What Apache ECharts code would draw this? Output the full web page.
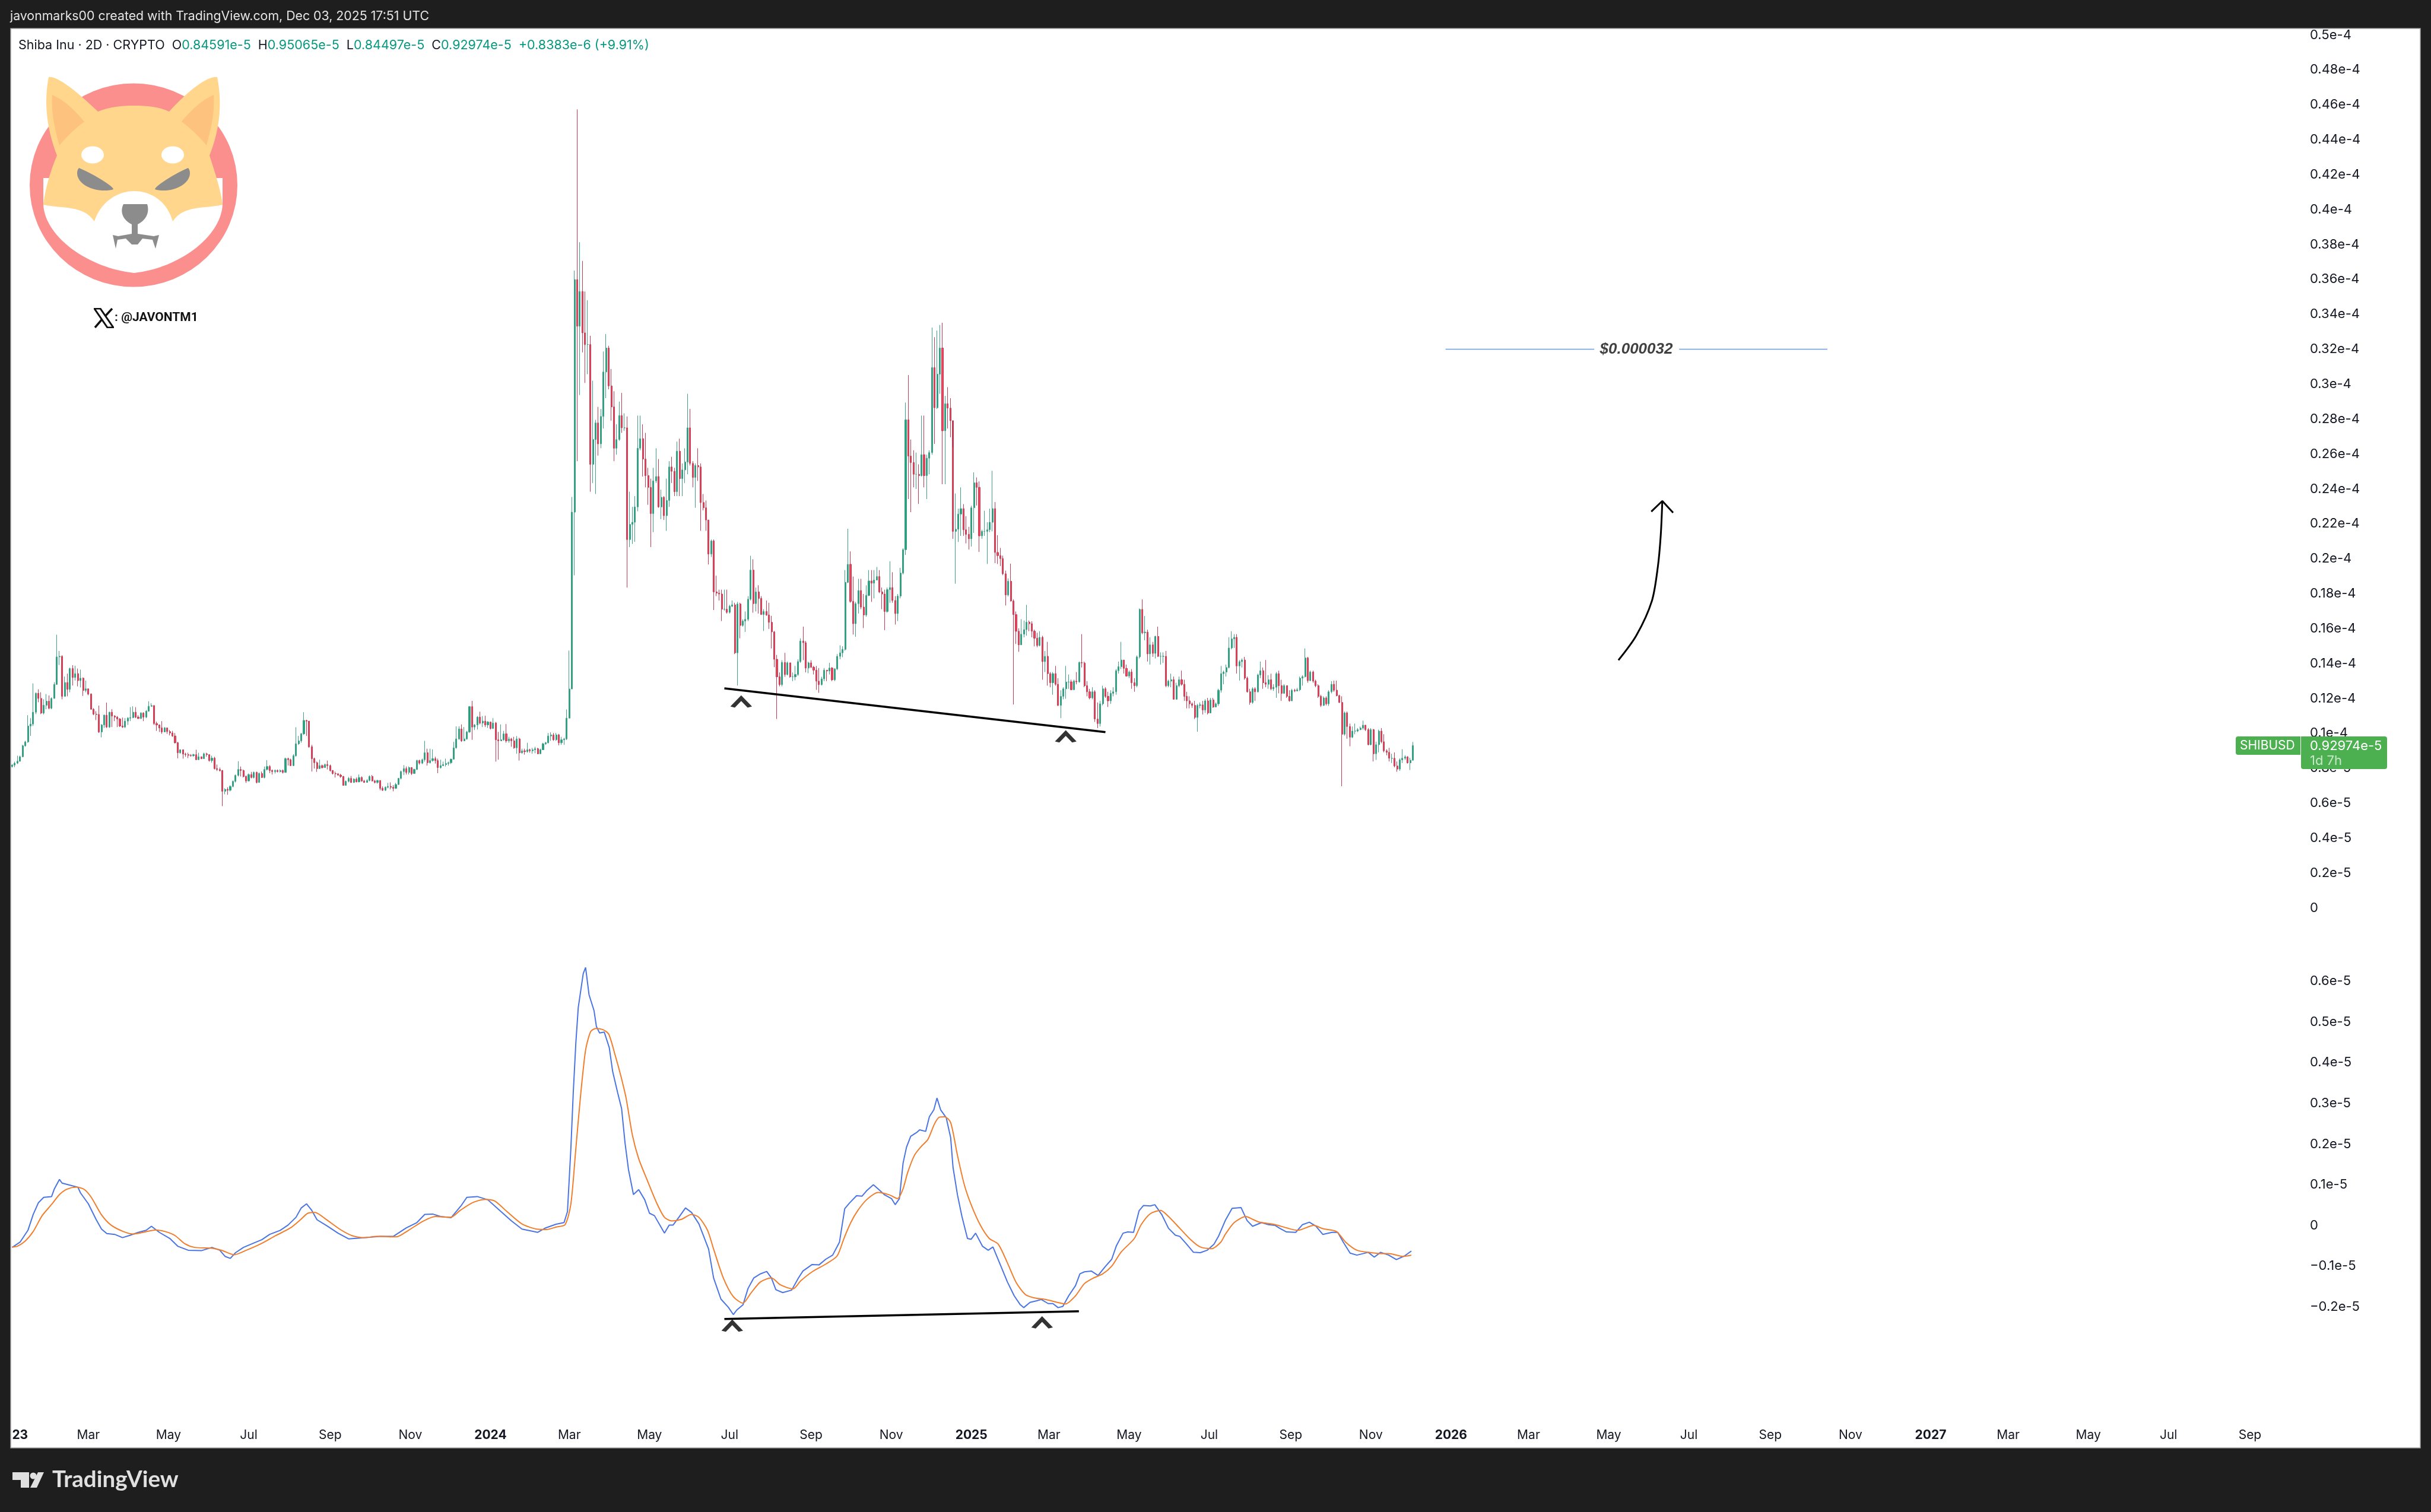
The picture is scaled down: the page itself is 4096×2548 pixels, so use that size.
<!DOCTYPE html>
<html>
<head>
<meta charset="utf-8">
<script src="https://cdn.jsdelivr.net/npm/echarts@6/dist/echarts.min.js"></script>
<style>html,body{margin:0;padding:0;background:#fff}#c{width:4096px;height:2548px}</style>
</head>
<body>
<div id="c"></div>
<script>
// SHIBUSD 2D bars, prices in units of 1e-6 USD. Each bar opens at the previous close.
const firstOpen = 8.10;
const shibClose = [
8.18,8.29,8.40,8.66,9.29,9.51,10.42,10.53,11.21,12.29,12.0,11.16,11.61,11.84,11.44,12.0,12.8,14.38,14.41,12.12,
12.91,12.52,13.71,13.2,13.42,13.02,13.16,12.46,12.55,12.25,11.38,11.1,11.08,10.08,10.48,11.04,10.36,11.21,10.99,10.93,
10.82,10.42,10.36,10.7,10.87,10.9,11.21,10.93,10.85,11.16,10.93,11.27,11.55,11.59,10.56,10.48,10.31,10.08,10.31,10.1,
10.02,9.85,9.46,8.89,9.06,8.81,8.78,8.74,8.72,8.78,8.49,8.66,8.55,8.83,8.78,8.44,8.58,7.98,7.93,7.87,
6.68,6.79,6.74,6.96,7.25,7.59,7.93,7.87,7.53,7.27,7.64,7.47,7.76,7.19,7.7,7.47,7.93,8.1,7.87,7.81,
7.87,7.81,7.87,7.76,8.55,8.49,8.15,8.72,9.4,9.57,9.97,10.74,10.7,9.23,8.55,8.32,7.98,8.15,8.04,8.21,
8.15,7.87,7.7,7.68,7.61,7.53,7.02,7.25,7.42,7.19,7.38,7.22,7.47,7.27,7.19,7.3,7.53,7.27,7.19,7.3,
6.85,6.74,6.91,6.96,6.91,6.85,7.07,7.42,7.81,7.98,7.76,8.04,7.7,7.93,8.44,8.29,8.49,8.89,8.32,8.44,
8.55,8.44,8.04,8.15,8.21,8.27,8.32,8.52,9.17,9.68,10.25,9.57,9.68,10.08,11.53,10.36,10.48,10.93,10.59,10.7,
10.48,10.65,10.28,10.59,9.63,9.57,9.63,9.97,9.57,9.68,9.57,9.17,9.68,8.89,9.0,8.95,9.06,9.0,9.06,9.12,
8.83,9.06,9.4,9.46,9.85,9.91,9.63,9.91,9.46,9.63,9.68,
10.87,12.54,22.67,35.99,33.32,35.31,32.94,32.27,32.27,25.41,26.83,27.78,26.58,28.15,30.7,32.07,29.9,28.7,26.33,
26.83,28.2,27.5,27.5,21.1,21.97,22.09,22.97,26.33,26.88,25.71,24.76,24.09,22.59,24.46,24.71,22.97,23.52,22.47,23.34,
25.26,25.01,23.84,26.16,24.59,25.09,25.54,27.5,25.46,24.66,25.34,25.26,23.22,22.92,22.22,20.27,21.02,18.1,18.03,17.98,
17.11,17.11,16.93,17.28,17.36,14.61,17.41,16.18,16.43,16.53,17.68,19.35,17.43,18.1,17.73,16.81,16.98,16.78,16.36,15.81,
14.24,13.24,12.79,14.06,13.37,14.04,13.24,13.24,13.37,14.11,15.29,15.19,13.74,14.04,13.79,13.62,12.99,12.79,13.12,13.62,
13.57,13.74,13.07,13.69,14.41,14.61,14.81,18.65,19.68,17.56,16.28,17.43,18.18,17.23,16.78,17.9,18.73,18.6,18.78,18.98,
18.1,17.98,16.98,18.23,18.35,17.61,16.86,17.86,19.18,20.52,27.96,25.88,25.51,24.84,24.84,24.76,25.96,24.76,25.76,26.08,
30.95,28.65,30.57,32.07,27.33,28.88,28.63,27.91,
21.57,21.69,22.56,22.87,21.66,21.4,21.14,22.92,24.35,24.09,21.31,21.57,21.57,21.66,22.09,22.87,20.36,20.18,20.01,19.14,
17.93,18.71,17.58,16.8,15.85,15.07,15.68,15.94,16.37,16.28,15.85,15.45,15.03,15.5,14.11,14.41,13.42,12.9,13.42,12.81,
11.6,12.12,12.55,12.94,12.95,12.5,12.99,12.95,14.06,14.03,12.73,12.38,12.03,12.38,10.82,10.56,11.69,12.55,12.12,11.86,
12.29,12.38,13.59,13.82,14.2,13.72,13.28,13.51,12.9,12.73,14.38,17.1,15.76,15.8,14.55,15.07,14.58,15.55,14.41,14.41,
14.41,12.73,12.99,13.07,11.95,12.73,13.07,12.81,12.12,11.86,11.69,11.6,10.91,11.6,11.63,11.34,11.86,11.17,11.91,11.51,
11.69,12.47,13.42,13.51,13.77,14.89,15.41,15.5,13.86,14.11,14.2,13.16,12.38,11.77,12.55,12.38,13.34,13.59,12.9,12.81,
13.07,12.55,12.64,13.42,12.73,12.29,12.73,12.12,11.86,12.47,12.43,12.5,13.16,13.25,14.32,13.02,13.51,12.99,12.73,12.12,
11.6,12.03,11.69,12.38,12.81,12.47,12.16,11.77,9.95,11.17,10.39,9.78,10.13,10.13,10.21,10.3,10.47,10.21,9.35,10.21,
8.83,9.35,10.13,9.52,9.0,8.91,8.57,8.57,8.13,7.95,8.48,8.57,8.65,8.31,8.459,9.297];
const shibHigh = [
8.24,8.38,8.72,8.72,9.34,9.57,11.04,10.87,12.86,12.35,12.52,12.35,11.95,12.25,12.17,12.06,12.93,15.65,14.72,14.47,
13.25,13.42,13.76,13.9,13.87,13.71,13.65,13.2,13.02,12.52,12.29,11.44,11.27,11.59,10.53,11.08,11.76,11.24,11.38,11.04,
10.99,10.87,10.9,10.87,10.93,11.5,11.55,11.5,11.04,11.21,11.21,11.33,11.84,11.72,11.61,10.67,10.51,10.7,10.36,10.33,
10.19,10.14,10.02,9.51,9.08,9.06,8.89,8.89,8.81,8.83,9.06,8.89,8.66,8.89,8.89,8.74,8.72,8.66,8.21,8.04,
7.90,6.85,6.91,7.02,7.30,7.64,8.40,8.10,7.93,7.59,7.70,7.79,7.81,7.81,7.76,7.81,8.10,8.46,8.18,7.93,
7.93,7.93,7.93,7.93,8.61,8.61,8.55,8.8,10.35,9.85,10.02,11.21,10.78,10.65,9.34,8.61,8.38,8.49,8.21,8.27,
8.44,8.21,7.9,7.81,7.72,7.68,7.56,7.3,7.5,7.56,7.42,7.47,7.64,7.53,7.34,7.38,7.59,7.61,7.34,7.34,
7.3,6.96,6.96,7.16,7.19,7.04,7.16,7.45,7.87,8.18,8.1,8.1,8.06,7.98,8.49,8.49,8.55,9.57,9.12,9.12,
9.08,8.66,8.55,8.49,8.38,8.55,8.38,8.55,9.51,10.4,10.4,10.51,10.36,10.14,11.55,11.86,10.53,10.99,11.24,10.99,
11.01,10.7,10.65,10.87,10.65,10.08,10.51,10.14,10.53,9.80,9.74,9.8,9.85,9.74,9.12,9.12,9.46,9.12,9.17,9.23,
9.17,9.12,9.46,9.51,10.02,10.06,10.02,10.02,9.97,9.8,9.74,
11.37,14.74,23.54,36.51,45.74,38.13,37.06,35.31,34.81,32.77,30.2,27.96,28.7,28.58,31.87,32.87,32.2,30.87,29.6,
27.7,29.0,29.5,28.33,28.15,23.84,22.97,23.59,28.2,28.2,27.7,27.21,25.21,24.59,25.21,26.33,25.71,23.96,23.59,24.59,
25.59,25.84,25.21,26.71,26.88,25.46,26.33,29.45,28.58,25.59,25.46,26.33,25.46,23.71,23.34,22.22,21.1,21.1,19.03,18.23,
18.23,18.23,18.23,17.36,17.61,17.48,17.53,17.48,16.53,16.98,17.86,20.17,19.97,18.35,18.48,17.86,17.11,17.61,17.48,16.73,
15.86,14.49,13.49,14.19,14.61,14.11,14.04,13.49,13.86,14.24,15.44,16.11,15.29,14.11,14.19,13.86,13.86,13.74,13.24,13.74,
13.62,14.04,13.79,13.74,14.54,15.04,14.99,19.35,21.72,20.42,18.98,17.53,18.85,18.85,17.98,18.48,19.35,19.35,19.35,19.53,
19.35,18.35,18.23,18.35,19.85,19.23,17.86,17.98,19.48,20.6,28.95,30.52,26.83,26.21,26.08,25.41,28.2,28.2,25.96,26.21,
33.24,32.69,33.07,33.39,33.52,29.33,29.83,29.2,
26.39,23.74,22.87,24.09,23.13,22.44,21.83,23.04,24.95,24.66,24.43,21.66,22.75,22.09,22.87,25.04,23.25,21.35,20.62,20.18,
19.32,18.88,19.72,17.67,16.98,16.02,16.54,16.46,17.36,16.46,16.42,15.94,15.76,15.85,15.59,14.72,15.24,13.51,13.51,13.86,
13.16,12.47,12.64,13.86,13.37,13.07,13.07,13.51,14.11,15.68,14.11,12.99,12.55,12.64,12.47,11.77,11.86,12.73,12.64,12.38,
12.47,12.64,13.68,14.11,15.24,14.2,13.94,13.59,13.68,13.16,14.46,17.15,17.67,16.72,15.94,15.5,15.24,15.59,16.11,14.64,
14.64,14.72,13.07,13.42,13.25,12.9,13.25,13.59,13.07,12.38,12.12,11.77,11.86,11.69,11.77,11.86,11.95,12.03,12.03,12.03,
11.77,12.55,13.86,13.59,13.94,15.5,15.85,15.68,15.68,14.2,14.29,14.38,13.25,12.55,12.64,12.64,13.42,14.11,13.77,14.2,
13.33,13.42,12.81,13.51,13.59,13.07,12.81,12.73,12.47,12.55,12.55,12.6,13.25,13.33,14.86,14.38,13.59,13.59,13.07,12.81,
12.21,12.12,12.12,12.47,12.99,13.02,13.02,12.21,12.12,11.25,11.25,10.56,10.39,10.56,10.3,10.39,10.73,10.47,10.3,10.3,
10.25,9.52,10.21,10.3,9.95,9.09,9.17,8.83,8.91,8.39,8.57,9.09,8.74,8.69,8.6,9.5065];
const shibLow = [
8.04,8.06,8.24,8.38,8.63,9.23,9.46,9.85,10.42,11.10,11.78,11.10,11.08,11.38,11.38,11.38,12.0,12.78,13.91,11.95,
12.12,12.12,12.35,12.74,13.02,12.69,12.63,12.14,12.35,12.18,11.35,11.04,10.76,10.02,9.77,10.31,10.31,10.31,10.36,10.70,
10.36,10.36,10.31,10.31,10.48,10.7,10.87,10.87,10.82,10.82,10.7,10.87,11.24,11.53,10.48,10.14,10.08,9.97,10.08,9.97,
9.88,9.8,9.42,8.57,8.83,8.55,8.66,8.58,8.66,8.66,8.47,8.55,8.52,8.55,8.66,8.38,8.32,7.93,7.84,7.81,
5.83,6.51,6.48,6.68,6.91,7.19,7.53,7.53,7.47,7.16,7.25,7.42,7.42,7.13,7.25,7.45,7.42,7.87,7.72,7.64,
7.7,7.76,7.76,7.7,7.76,8.15,8.13,8.13,8.66,9.34,9.46,9.91,9.85,9.17,7.81,7.98,7.79,7.95,7.98,8.04,
7.93,7.81,7.64,7.47,7.56,7.45,7.0,7.02,7.19,7.16,7.16,7.19,7.19,7.22,7.16,7.22,7.25,7.25,7.13,7.11,
6.74,6.70,6.70,6.85,6.79,6.68,6.82,7.04,7.36,7.61,7.64,7.64,7.61,7.68,7.9,8.21,8.24,8.38,8.15,8.27,
8.38,8.27,7.72,7.98,8.13,8.10,8.15,8.24,8.49,9.12,9.63,9.51,9.55,9.63,10.02,9.63,10.19,10.22,10.51,10.36,
10.36,10.31,10.22,10.25,8.38,8.49,9.57,9.57,9.46,9.46,9.23,9.12,8.83,8.44,8.83,8.78,8.89,8.89,8.83,8.86,
8.81,8.83,9.04,9.34,9.42,9.57,9.57,9.57,9.31,9.34,9.34,
9.62,10.87,12.54,19.05,25.59,29.38,31.82,30.07,30.57,23.84,24.34,23.71,25.91,26.33,27.46,29.2,29.7,27.91,25.59,
25.96,26.76,27.21,27.33,18.35,20.67,20.85,20.97,22.72,26.21,24.71,24.09,23.09,20.67,21.52,24.34,22.92,22.27,22.22,21.6,
22.97,24.34,23.59,23.59,23.59,23.59,24.34,24.84,25.34,24.09,22.92,24.46,21.6,22.77,21.6,19.67,20.1,17.06,17.86,17.61,
16.43,17.03,16.86,16.86,17.23,14.54,12.74,15.44,16.11,15.81,16.43,17.61,16.91,16.98,16.86,16.78,15.86,16.73,15.98,14.86,
13.79,10.82,12.69,12.69,13.24,13.32,13.19,12.99,13.04,13.29,14.04,14.19,13.49,13.44,13.74,13.37,12.49,12.32,12.74,12.99,
12.99,13.37,12.99,12.99,13.62,14.24,14.36,14.74,18.6,17.48,15.66,15.53,16.86,17.11,16.03,16.68,17.86,17.53,17.73,18.78,
18.03,17.11,15.91,16.91,17.48,17.48,16.23,16.43,17.73,19.1,20.22,23.42,22.67,24.09,24.0,23.14,24.71,24.09,23.42,24.84,
25.96,26.58,28.58,29.45,24.27,24.27,27.46,26.96,
21.14,18.57,20.96,21.31,21.31,20.88,20.53,20.7,21.48,23.05,20.39,21.14,21.31,19.7,21.52,21.57,19.75,19.7,19.58,19.06,
17.32,17.84,17.55,11.65,15.12,14.67,15.07,15.5,15.59,15.85,15.5,14.98,14.93,14.98,13.07,13.51,12.73,12.64,12.21,12.73,
11.57,10.87,11.95,11.98,12.55,12.47,12.47,12.81,12.9,13.77,12.64,12.12,11.95,11.95,10.65,10.3,10.39,11.6,12.03,11.51,
11.69,12.12,12.21,13.42,13.68,13.42,13.25,13.16,12.55,12.38,12.64,14.29,15.68,15.33,14.11,13.94,14.38,14.29,14.38,13.94,
14.03,12.64,12.64,12.64,11.95,11.95,12.64,12.73,11.86,11.43,11.43,11.46,10.82,10.09,11.43,11.08,11.17,11.08,11.17,11.46,
11.5,11.57,12.33,12.81,13.25,13.72,14.81,14.89,13.42,13.02,13.77,13.07,12.33,11.64,11.69,11.86,12.33,13.16,12.55,12.64,
12.55,12.47,12.43,12.03,12.29,11.86,12.29,12.03,11.81,12.09,12.36,12.4,12.42,12.73,13.2,12.9,12.99,12.9,12.64,12.03,
11.51,11.57,11.6,11.57,12.29,12.38,12.12,11.74,6.97,9.87,9.69,9.26,9.73,9.95,10.07,10.18,10.21,10.13,9.31,9.31,
8.39,8.48,8.91,9.43,8.91,8.74,8.39,8.3,8.05,7.8,7.85,8.3,8.48,8.27,7.9,8.4497];

// Indicator pane, units of 1e-6, positions given in (fractional) bars
const fastBars = [0,3,6,8,10,12,15,16,18,19,22,25,26,29,32,34,36,39,42,45,48,51,53,56,60,63,67,72,76,79,81,83,85,88,92,95,98,102,105,108,110,112,114,116,120,124,128,134,140,145,150,154,157,160,163,167,171,173,177,181,186,190,194,200,203,207,210,211.3,212.6,213.5,214.5,215.4,217.3,218.2,219.5,221.4,222.3,223.5,225.3,227.2,228.5,230.4,231.9,233.2,234.5,236.4,238.4,240.7,242.5,244.4,248.2,250,251.5,253.8,256.2,258.5,261.3,265,266.9,269.7,272.5,274.4,275.7,278.1,280,282.2,284.7,287.1,288.9,290.6,293.2,296.6,299.2,300.9,304.4,307,309.6,312.2,314.8,316.8,318.6,321.3,323.4,325.1,327.7,330,332,334.6,336,337.6,339,340.3,341.9,344.1,345.3,347.6,349,350.7,351.9,353.3,355.4,357.1,358,359.7,361.4,363.5,364.9,366.6,369.2,371.4,373.2,376.1,378.7,381.3,383.5,384.9,387.3,389.9,391.6,394.2,396,398,399.8,402,404.6,406.3,408,410.6,413.2,415.8,418.4,420.1,422.7,424.5,426.7,428.8,430.5,433.1,434.8,437.4,440,442.6,444.3,446.9,449.5,452.1,454.7,457.3,459,461.6,464.2,467.6,469.9,472,475.4,478,480.6,482.3,484.9,488.4,491,493.6,496.1,498.7,502.2,504.4,506.5,509.1,511.7,516,518.3,520.7,523.8,526.7,529.8,532.4];
const fastValues = [-0.54,-0.41,-0.12,0.27,0.56,0.69,0.71,0.89,1.13,1.04,0.99,0.94,0.8,0.53,0.14,-0.09,-0.2,-0.22,-0.3,-0.24,-0.17,-0.12,-0.02,-0.17,-0.32,-0.51,-0.61,-0.62,-0.54,-0.61,-0.76,-0.81,-0.67,-0.54,-0.43,-0.35,-0.22,-0.12,0.01,0.2,0.43,0.53,0.37,0.14,-0.02,-0.19,-0.33,-0.3,-0.27,-0.27,-0.06,0.07,0.27,0.28,0.22,0.19,0.5,0.69,0.71,0.63,0.34,0.11,-0.09,-0.17,-0.06,0.03,0.07,0.34,1.9,3.26,4.5,5.35,6.19,6.34,5.67,5.28,4.89,4.73,4.75,4.37,3.78,3.26,2.87,2.03,1.38,0.76,0.88,0.63,0.3,0.24,-0.19,0.01,0.01,0.21,0.43,0.32,0.04,-0.58,-1.29,-1.81,-2.01,-2.19,-2.08,-1.95,-1.55,-1.29,-1.19,-1.13,-1.29,-1.58,-1.65,-1.59,-1.29,-1.12,-0.96,-0.97,-0.83,-0.73,-0.41,0.41,0.55,0.73,0.72,0.85,1.0,0.87,0.75,0.66,0.51,0.66,1.53,1.92,2.19,2.28,2.35,2.31,2.67,2.84,3.13,2.84,2.65,2.16,1.43,0.75,0.22,-0.32,-0.34,-0.19,-0.51,-0.61,-0.53,-0.98,-1.39,-1.73,-1.94,-2.02,-1.89,-1.85,-1.82,-1.92,-1.92,-2.02,-1.99,-1.73,-1.48,-1.19,-1.14,-1.12,-1.23,-1.02,-0.83,-0.51,-0.19,-0.16,-0.17,0.36,0.49,0.48,0.51,0.27,-0.07,-0.24,-0.27,-0.46,-0.66,-0.67,-0.61,-0.46,-0.27,0.12,0.42,0.44,0.12,-0.02,0.07,0.02,0.0,-0.07,-0.16,-0.17,0.02,0.08,-0.02,-0.22,-0.17,-0.17,-0.41,-0.68,-0.73,-0.66,-0.78,-0.66,-0.73,-0.84,-0.75,-0.63];
const slowBars = [0,2,5,8,11.4,15.2,18,20.8,24.5,27.3,30.1,33.9,37.6,42.3,46,49.8,54.5,58.2,62,65.7,69.4,76,79.7,84.4,89.1,94.7,100.3,105.9,109.7,112.5,115.3,119,124.6,129.3,134,138.7,146.2,150.8,156.5,161.1,166.8,170.5,175.2,179.9,183.6,188.3,193.9,199.5,203.3,207,210.4,212.6,214.5,216.3,218.2,220.1,222,224.8,227,229.5,231.7,233.6,236,238.4,241.6,245.4,248.2,251,254.7,258.5,261.3,264.6,266.9,270.6,274.4,278.1,280.9,284.7,288.9,292.3,297.1,300.1,304.4,309.6,313.9,316.5,319.1,321.7,325.1,329.5,333.8,336.9,339,340.7,343.3,345.9,348.4,351,352.8,354.8,357.1,359.7,362.3,364.9,368.3,371.8,375.2,378.7,382.1,385.6,389,393.4,397.7,400.8,404.6,408,411.5,415,418.4,421.9,427,429.6,433.1,437,440,444.3,448.6,452.1,456.4,459.9,461.6,465,469.4,472,474.6,480.6,484.9,489.2,495.3,498.7,503.9,507.4,511.7,516,520.3,523.8,529,532.4];
const slowValues = [-0.53,-0.51,-0.38,-0.15,0.24,0.53,0.76,0.89,0.94,0.89,0.69,0.27,0.01,-0.15,-0.21,-0.17,-0.11,-0.15,-0.25,-0.45,-0.54,-0.56,-0.61,-0.72,-0.61,-0.45,-0.25,-0.06,0.14,0.3,0.32,0.17,-0.09,-0.25,-0.3,-0.27,-0.28,-0.12,0.11,0.22,0.2,0.37,0.56,0.64,0.6,0.34,0.04,-0.09,-0.1,-0.04,0.02,0.53,1.9,3.2,4.31,4.76,4.84,4.81,4.7,4.17,3.65,3.13,2.22,1.64,1.12,0.53,0.2,0.11,0.15,0.27,0.2,-0.12,-0.58,-1.29,-1.75,-1.91,-1.68,-1.39,-1.29,-1.46,-1.56,-1.36,-1.14,-0.95,-0.75,-0.32,0.07,0.36,0.63,0.81,0.75,0.66,0.9,1.29,1.72,1.94,2.11,2.5,2.66,2.67,2.53,1.72,1.0,0.51,0.02,-0.32,-0.46,-0.92,-1.41,-1.7,-1.78,-1.82,-1.89,-1.93,-1.73,-1.43,-1.29,-1.19,-1.0,-0.66,-0.32,0.02,0.29,0.37,0.22,-0.07,-0.36,-0.53,-0.57,-0.41,-0.22,0.07,0.22,0.15,0.08,0.02,-0.06,-0.12,0.0,-0.08,-0.15,-0.41,-0.61,-0.66,-0.69,-0.69,-0.76,-0.73];

// Hand-drawn annotations, [bar, value]
const priceTrend = [[271,12.58],[416,10.07]];
const indicatorTrend = [[271,-2.30],[405.9,-2.11]];
const priceChevrons = [[277.4,11.76],[400.9,9.76]];
const indicatorChevrons = [[274,-2.49],[391.9,-2.41]];
const targetLevel = [[545.4,32],[602,32],null,[634.3,32],[690.7,32]];
const targetLabelPoint = [618,32];
const targetLabel = '$0.000032';
const arrowShaft = [[611.2,14.19],[618,15.6],[623.9,17.57],[626.2,19.54],[627.3,21.34],[627.9,23.31]];
const arrowHead = [[623.7,22.7],[627.9,23.31],[632,22.64]];

// Tick labels
const priceTickValues = [0,2,4,6,8,10,12,14,16,18,20,22,24,26,28,30,32,34,36,38,40,42,44,46,48,50];
const priceTickLabels = ['0','0.2e-5','0.4e-5','0.6e-5','0.8e-5','0.1e-4','0.12e-4','0.14e-4','0.16e-4','0.18e-4','0.2e-4','0.22e-4','0.24e-4','0.26e-4','0.28e-4','0.3e-4','0.32e-4','0.34e-4','0.36e-4','0.38e-4','0.4e-4','0.42e-4','0.44e-4','0.46e-4','0.48e-4','0.5e-4'];
const indicatorTickValues = [-2,-1,0,1,2,3,4,5,6];
const indicatorTickLabels = ['\u22120.2e-5','\u22120.1e-5','0','0.1e-5','0.2e-5','0.3e-5','0.4e-5','0.5e-5','0.6e-5'];
const timeTickDates = ['2023-01-08','2023-03-01','2023-05-01','2023-07-01','2023-09-01','2023-11-01','2024-01-01','2024-03-01','2024-05-01','2024-07-01','2024-09-01','2024-11-01','2025-01-01','2025-03-01','2025-05-01','2025-07-01','2025-09-01','2025-11-01','2026-01-01','2026-03-01','2026-05-01','2026-07-01','2026-09-01','2026-11-01','2027-01-01','2027-03-01','2027-05-01','2027-07-01','2027-09-01'];
const timeTickLabels = ['23','Mar','May','Jul','Sep','Nov','2024','Mar','May','Jul','Sep','Nov','2025','Mar','May','Jul','Sep','Nov','2026','Mar','May','Jul','Sep','Nov','2027','Mar','May','Jul','Sep'];

const DAY = 86400000;
const firstBarTime = Date.UTC(2023,0,2);
const barTime = i => firstBarTime + i*2*DAY;
const pxPerDay = 2.214;
const axisMin = firstBarTime - 2.5/pxPerDay*DAY;
const axisMax = axisMin + 3862/pxPerDay*DAY;
const asPoints = arr => arr.map(p => p ? [barTime(p[0]), p[1]] : null);
const zip = (b,v) => b.map((x,k)=>[barTime(x), v[k]]);

const candles = shibClose.map((c,i)=>[barTime(i), i?shibClose[i-1]:firstOpen, c, shibLow[i], shibHigh[i]]);
const timeTicks = timeTickDates.map(d=>Date.parse(d+'T00:00:00Z'));
const INK = '#131722', FONT = 'Inter';

const logoSvg = `<svg xmlns="http://www.w3.org/2000/svg" viewBox="40 120 370 375" width="370" height="375">
<ellipse cx="225" cy="312" rx="175" ry="171.5" fill="#fa8f8e"/>
<path d="M73 345 C76 400 150 452 226 460 C300 452 372 400 375 345 L375 300 L73 300 Z" fill="#fff"/>
<path d="M82 130 C96 128 125 150 165 188 C185 180 205 178 226 178 C248 178 268 180 285 188 C320 150 350 128 366 130 C374 170 372 215 353 262 C362 290 372 320 375 345 C345 352 310 345 291 373 C282 340 255 322 226 322 C198 322 170 340 159 373 C140 345 105 352 73 345 C76 320 84 290 96 262 C78 215 74 170 82 130 Z" fill="#ffd68c"/>
<path d="M88 160 C112 170 134 195 142 205 C122 220 108 235 100 245 C92 215 86 190 88 160 Z" fill="#fcc27e"/>
<path d="M360 160 C336 170 314 195 306 205 C326 220 340 235 348 245 C356 215 362 190 360 160 Z" fill="#fcc27e"/>
<ellipse cx="156" cy="261" rx="19" ry="14.5" fill="#fff"/>
<ellipse cx="291" cy="261" rx="19" ry="14.5" fill="#fff"/>
<path d="M133 283 C150 290 190 312 191 319 C180 323 155 322 140 310 C130 302 127 290 133 283 Z" fill="#8c8c8c"/>
<path d="M317 283 C300 290 262 312 261 319 C272 323 295 322 310 310 C320 302 323 290 317 283 Z" fill="#8c8c8c"/>
<path d="M208 344 L248 344 C252 356 248 370 232 378 L232 394 L259 398 L268 396 L262 419 L257 404 L240 402 L232 412 L222 412 L212 402 L198 404 L195 419 L190 396 L199 398 L222 394 L222 378 C206 370 202 356 208 344 Z" fill="#8c8c8c"/>
</svg>`;
const xSvg = `<svg xmlns="http://www.w3.org/2000/svg" viewBox="0 0 34 34" width="34" height="34"><path d="M1 1 L11 1 L33 33 L23 33 Z" fill="none" stroke="#111" stroke-width="3"/><path d="M31 1 L19 14 M14 19 L2 33" stroke="#111" stroke-width="3.5"/></svg>`;
const svgUrl = s => 'data:image/svg+xml;charset=utf-8,' + encodeURIComponent(s);

const legendText = '{k|Shiba Inu \u00b7 2D \u00b7 CRYPTO  O}{v|0.84591e-5}{k|  H}{v|0.95065e-5}{k|  L}{v|0.84497e-5}{k|  C}{v|0.92974e-5}{v|  +0.8383e-6 (+9.91%)}';

const frameColor = '#1e1e1e';
const graphic = [
  {type:'rect',z:100,shape:{x:0,y:0,width:4096,height:48},style:{fill:frameColor}},
  {type:'rect',z:100,shape:{x:0,y:0,width:18,height:2548},style:{fill:frameColor}},
  {type:'rect',z:100,shape:{x:4078,y:0,width:18,height:2548},style:{fill:frameColor}},
  {type:'rect',z:100,shape:{x:0,y:2440,width:4096,height:108},style:{fill:frameColor}},
  {type:'rect',z:101,shape:{x:18,y:48,width:4060,height:2392},style:{fill:'none',stroke:'#a0a0a0',lineWidth:1.5}},
  {type:'text',z:102,x:17,y:28,style:{text:'javonmarks00 created with TradingView.com, Dec 03, 2025 17:51 UTC',fill:'#e4e4e4',font:'21.3px '+FONT,verticalAlign:'middle'}},
  {type:'text',z:102,x:31,y:77,style:{text:legendText,font:'21.5px '+FONT,verticalAlign:'middle',rich:{k:{fill:INK,font:'21.5px '+FONT},v:{fill:'#089981',font:'21.5px '+FONT}}}},
  {type:'image',z:20,style:{image:svgUrl(logoSvg),x:40,y:120,width:370,height:375}},
  {type:'image',z:20,style:{image:svgUrl(xSvg),x:158,y:519,width:34,height:34}},
  {type:'text',z:20,x:193,y:536,style:{text:': @JAVONTM1',fill:'#111',font:'bold 21px Roboto',verticalAlign:'middle'}},
  {type:'rect',z:110,shape:{x:3767,y:1241,width:109,height:31,r:[4,0,0,4]},style:{fill:'#4caf50'}},
  {type:'rect',z:110,shape:{x:3877,y:1241,width:145,height:55,r:[0,4,4,4]},style:{fill:'#4caf50'}},
  {type:'text',z:111,x:3774,y:1257,style:{text:'SHIBUSD',fill:'#fff',font:'21px '+FONT,verticalAlign:'middle'}},
  {type:'text',z:111,x:3892,y:1257,style:{text:'0.92974e-5',fill:'#fff',font:'22px '+FONT,verticalAlign:'middle'}},
  {type:'text',z:111,x:3892,y:1282,style:{text:'1d 7h',fill:'#c8e6c9',font:'22px '+FONT,verticalAlign:'middle'}},
  {type:'polygon',z:102,shape:{points:[[21,2481],[49,2481],[49,2507],[35,2507],[35,2494],[21,2494]]},style:{fill:'#e0e0e0'}},
  {type:'circle',z:102,shape:{cx:56,cy:2487,r:5.5},style:{fill:'#e0e0e0'}},
  {type:'polygon',z:102,shape:{points:[[64,2481],[74,2481],[62,2507],[51,2507]]},style:{fill:'#e0e0e0'}},
  {type:'text',z:102,x:88,y:2494,style:{text:'TradingView',fill:'#e0e0e0',font:'700 38.5px Lato',verticalAlign:'middle'}}
];

const lookup = (vals,labels,v) => { const k = vals.findIndex(x=>Math.abs(x-v)<1e-6); return k<0?'':labels[k]; };
const blackLine = (name,data,xi,yi,w,extra) => Object.assign({name,type:'line',xAxisIndex:xi,yAxisIndex:yi,data,showSymbol:false,silent:true,lineStyle:{color:'#000',width:w},z:6},extra||{});
const chevron = (name,data,xi,yi) => ({name,type:'scatter',xAxisIndex:xi,yAxisIndex:yi,data,symbol:'path://M0 16 L15 1 L30 16',symbolSize:[29,15],itemStyle:{color:'transparent',borderColor:'#000',borderWidth:6},z:6,silent:true});

const option = {
  animation:false,
  backgroundColor:'#ffffff',
  graphic,
  textStyle:{fontFamily:FONT},
  grid:[
    {left:18,width:3862,top:59,height:1529.84,containLabel:false},
    {left:18,width:3862,top:1585,height:823,containLabel:false}
  ],
  xAxis:[
    {type:'value',gridIndex:0,min:axisMin,max:axisMax,axisLine:{show:false},axisTick:{show:false},axisLabel:{show:false},splitLine:{show:false}},
    {type:'value',gridIndex:1,min:axisMin,max:axisMax,axisLine:{show:false},axisTick:{show:false},splitLine:{show:false},
     axisLabel:{show:true,customValues:timeTicks,margin:0,fontSize:21,color:INK,fontFamily:FONT,hideOverlap:false,showMinLabel:true,showMaxLabel:true,
       formatter:v=>{const k=timeTicks.indexOf(+v); if(k<0) return ''; const s=timeTickLabels[k]; return /^\d+$/.test(s)?'{y|'+s+'}':s;},
       rich:{y:{fontWeight:700,fontSize:21,color:INK,fontFamily:FONT}}}}
  ],
  yAxis:[
    {type:'value',gridIndex:0,position:'right',min:-2,max:50,interval:2,axisLine:{show:false},axisTick:{show:false},splitLine:{show:false},
     axisLabel:{margin:12,fontSize:22,color:INK,fontFamily:FONT,align:'left',showMinLabel:true,showMaxLabel:true,formatter:v=>lookup(priceTickValues,priceTickLabels,v)}},
    {type:'value',gridIndex:1,position:'right',min:-5,max:7,interval:1,axisLine:{show:false},axisTick:{show:false},splitLine:{show:false},
     axisLabel:{margin:12,fontSize:22,color:INK,fontFamily:FONT,align:'left',padding:[3,0,0,0],formatter:v=>lookup(indicatorTickValues,indicatorTickLabels,v)}}
  ],
  series:[
    {name:'SHIBUSD',type:'candlestick',xAxisIndex:0,yAxisIndex:0,data:candles,encode:{x:0,y:[1,2,3,4]},barWidth:2.6,clip:true,
     itemStyle:{color:'#23a37e',color0:'#f0475e',borderColor:'#3f9f86',borderColor0:'#c23a52',borderWidth:1}},
    {name:'Fast',type:'line',xAxisIndex:1,yAxisIndex:1,data:zip(fastBars,fastValues),showSymbol:false,lineStyle:{color:'#4a74e2',width:2},z:4},
    {name:'Slow',type:'line',xAxisIndex:1,yAxisIndex:1,data:zip(slowBars,slowValues),showSymbol:false,smooth:0.25,lineStyle:{color:'#f17e2c',width:2},z:5},
    blackLine('Price trend',asPoints(priceTrend),0,0,3.5),
    blackLine('Indicator trend',asPoints(indicatorTrend),1,1,3.5),
    chevron('Price lows',asPoints(priceChevrons),0,0),
    chevron('Indicator lows',asPoints(indicatorChevrons),1,1),
    {name:'Target',type:'line',xAxisIndex:0,yAxisIndex:0,data:asPoints(targetLevel),connectNulls:false,showSymbol:false,silent:true,lineStyle:{color:'#6f97ea',width:1.5}},
    {name:'Target label',type:'scatter',xAxisIndex:0,yAxisIndex:0,data:[[barTime(targetLabelPoint[0]),targetLabelPoint[1]]],symbolSize:0,silent:true,
     label:{show:true,position:'inside',formatter:targetLabel,fontSize:26,fontWeight:700,fontStyle:'italic',color:'#111',fontFamily:'Liberation Sans'}},
    blackLine('Arrow shaft',asPoints(arrowShaft),0,0,3,{smooth:0.3}),
    blackLine('Arrow head',asPoints(arrowHead),0,0,3)
  ]
};
const chart = echarts.init(document.getElementById('c'),null,{renderer:'canvas',width:4096,height:2548});
chart.setOption(option);
</script>
</body>
</html>
